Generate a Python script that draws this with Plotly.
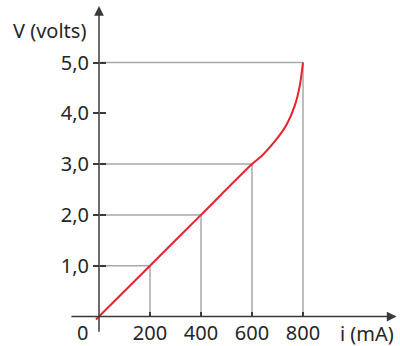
import plotly.graph_objects as go

# curva característica
i_curve = [-12, 0, 200, 400, 600, 640, 690, 736, 769, 788, 800]
v_curve = [-0.06, 0, 1, 2, 3, 3.17, 3.45, 3.78, 4.17, 4.56, 5]

# pontos com linhas de chamada
i_marks = [200, 400, 600, 800]
v_marks = [1.0, 2.0, 3.0, 5.0]

x_ticks = [200, 400, 600, 800]
y_ticks = [1, 2, 3, 4, 5]

W, H = 400, 346
x0_px, x_scale = 99, 0.255     # px por mA
y0_px, y_scale = 316.5, 50.8   # px por volt

x_range = [-x0_px / x_scale, (W - x0_px) / x_scale]
y_range = [-(H - y0_px) / y_scale, y0_px / y_scale]

font = 'Noto Sans'
fsize = 20
txt = '#262626'
axis_col = '#3a3a3a'
guide_col = '#a8a8a8'

fig = go.Figure()

fig.add_trace(go.Scatter(
    x=i_curve, y=v_curve, mode='lines',
    line=dict(color='#e8212b', width=2, shape='spline', smoothing=0.6),
    hoverinfo='skip'
))
# traço vazio só para que o eixo y2 (traços internos) seja desenhado
fig.add_trace(go.Scatter(x=[], y=[], yaxis='y2', hoverinfo='skip'))

# linhas de chamada
shapes = []
for xi, vi in zip(i_marks, v_marks):
    shapes.append(dict(type='line', xref='x', yref='y', x0=0, y0=vi, x1=xi, y1=vi,
                       line=dict(color=guide_col, width=1.5), layer='below'))
    shapes.append(dict(type='line', xref='x', yref='y', x0=xi, y0=0, x1=xi, y1=vi,
                       line=dict(color=guide_col, width=1.5), layer='below'))

# eixos com seta
x_axis_start, x_axis_end = -114, 1167
y_axis_start, y_axis_end = -0.33, 6.11
annotations = [
    dict(x=x_axis_end, y=0, ax=x_axis_start, ay=0, xref='x', yref='y', axref='x', ayref='y',
         text='', showarrow=True, arrowhead=2, arrowsize=1.3, arrowwidth=1.5, arrowcolor=axis_col),
    dict(x=0, y=y_axis_end, ax=0, ay=y_axis_start, xref='x', yref='y', axref='x', ayref='y',
         text='', showarrow=True, arrowhead=2, arrowsize=1.3, arrowwidth=1.5, arrowcolor=axis_col),
    dict(x=88 / W, y=1 - 30 / H, xref='paper', yref='paper', text='V (volts)', showarrow=False,
         xanchor='right', yanchor='middle', font=dict(family=font, size=fsize, color=txt)),
    dict(x=396 / W, y=1 - 333 / H, xref='paper', yref='paper', text='i (mA)', showarrow=False,
         xanchor='right', yanchor='middle', font=dict(family=font, size=fsize, color=txt)),
    dict(x=82 / W, y=1 - 332 / H, xref='paper', yref='paper', text='0', showarrow=False,
         xanchor='center', yanchor='middle', font=dict(family=font, size=fsize, color=txt)),
]

fig.update_layout(
    width=W, height=H,
    margin=dict(l=0, r=0, t=0, b=0),
    paper_bgcolor='white', plot_bgcolor='white',
    showlegend=False,
    separators=',.',
    shapes=shapes,
    annotations=annotations,
    font=dict(family=font, size=fsize, color=txt),
    xaxis=dict(range=x_range, showgrid=False, zeroline=False, showline=False,
               anchor='free', position=(H - y0_px) / H,
               tickvals=x_ticks, ticks='inside', ticklen=5, tickwidth=1.5, tickcolor=axis_col,
               ticklabelstandoff=2, fixedrange=True),
    yaxis=dict(range=y_range, showgrid=False, zeroline=False, showline=False,
               anchor='free', position=x0_px / W,
               tickvals=y_ticks, tickformat='.1f', ticks='outside', ticklen=6, tickwidth=1.5,
               tickcolor=axis_col, fixedrange=True),
    # parte interna dos traços do eixo V
    yaxis2=dict(range=y_range, overlaying='y', showgrid=False, zeroline=False, showline=False,
                anchor='free', position=x0_px / W, side='left',
                tickvals=y_ticks, ticks='inside', ticklen=6, tickwidth=1.5,
                tickcolor=axis_col, showticklabels=False, fixedrange=True),
)

fig.write_html('out.html', post_script="document.body.style.margin='0';",
               config={'displayModeBar': False})
